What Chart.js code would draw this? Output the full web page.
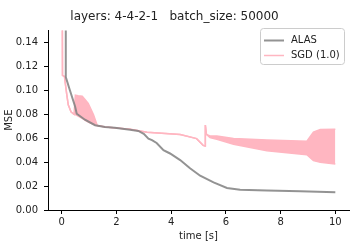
<!DOCTYPE html>
<html>
<head>
<meta charset="utf-8">
<script src="https://cdn.jsdelivr.net/npm/chart.js@4"></script>
<style>
  html, body { margin: 0; padding: 0; background: #fff; }
  #wrap { width: 360px; height: 252px; position: relative; }
</style>
</head>
<body>
<div id="wrap"><canvas id="c" width="360" height="252"></canvas></div>
<script>
// ---- data ----
const titleText = 'layers: 4-4-2-1   batch_size: 50000';
const xTicks = [0, 2, 4, 6, 8, 10];
const yTicks = [0.00, 0.02, 0.04, 0.06, 0.08, 0.10, 0.12, 0.14];

const alasTime = [0.15, 0.15, 0.3, 0.49, 0.55, 0.85, 1.22, 1.58, 1.94, 2.5, 2.8, 3.0, 3.17, 3.3, 3.47, 3.72, 3.96, 4.33, 4.69, 5.06, 5.55, 6.04, 6.52, 7.5, 8.72, 10];
const alasMse  = [0.5, 0.111, 0.100, 0.0864, 0.0804, 0.0754, 0.0708, 0.0694, 0.0686, 0.0670, 0.0660, 0.0636, 0.0596, 0.0584, 0.0560, 0.0500, 0.0472, 0.0417, 0.0349, 0.0286, 0.0230, 0.0184, 0.0170, 0.0162, 0.0156, 0.0148];

const sgdTime = [-0.02, 0.03, 0.1, 0.18, 0.24, 0.34, 0.45, 0.5, 0.6, 0.75, 0.86, 0.97, 1.16, 1.3, 1.6, 2.0, 2.5, 3.12, 4.33, 4.93, 5.17, 5.24, 5.25, 5.29, 5.42, 5.67, 6.28, 7.5, 8.96, 9.2, 9.45, 10];
const sgdLow   = [0.5, 0.1125, 0.1115, 0.0974, 0.0878, 0.0820, 0.0800, 0.0796, 0.0785, 0.0765, 0.0748, 0.0735, 0.0716, 0.0705, 0.0693, 0.0684, 0.0675, 0.0650, 0.0631, 0.0596, 0.0540, 0.0535, 0.0710, 0.0632, 0.0604, 0.0590, 0.0549, 0.0494, 0.0461, 0.0412, 0.0398, 0.0385];
const sgdHigh  = [0.5, 0.1125, 0.1115, 0.0974, 0.0878, 0.0820, 0.0800, 0.0960, 0.0955, 0.0950, 0.0920, 0.0890, 0.0797, 0.0705, 0.0693, 0.0684, 0.0675, 0.0650, 0.0631, 0.0596, 0.0540, 0.0535, 0.0710, 0.0632, 0.0618, 0.0618, 0.0597, 0.0584, 0.0575, 0.0650, 0.0672, 0.0675];

const seriesNames = ['ALAS', 'SGD (1.0)'];
// --------------------------------------

const FONT = "'DejaVu Sans', sans-serif";
const GRAY = 'rgba(128,128,128,0.85)';
const PINK = '#ffb6c1';

const toXY = (xs, ys) => xs.map((x, i) => ({ x: x, y: ys[i] }));

const legendBox = {
  id: 'legendBox',
  afterDraw(chart) {
    const ctx = chart.ctx;
    const x0 = 260.5, y0 = 28.5, w = 84, h = 36, r = 3;
    ctx.save();
    ctx.beginPath();
    ctx.moveTo(x0 + r, y0);
    ctx.lineTo(x0 + w - r, y0);
    ctx.arcTo(x0 + w, y0, x0 + w, y0 + r, r);
    ctx.lineTo(x0 + w, y0 + h - r);
    ctx.arcTo(x0 + w, y0 + h, x0 + w - r, y0 + h, r);
    ctx.lineTo(x0 + r, y0 + h);
    ctx.arcTo(x0, y0 + h, x0, y0 + h - r, r);
    ctx.lineTo(x0, y0 + r);
    ctx.arcTo(x0, y0, x0 + r, y0, r);
    ctx.closePath();
    ctx.fillStyle = 'rgba(255,255,255,0.8)';
    ctx.fill();
    ctx.strokeStyle = '#cccccc';
    ctx.lineWidth = 1;
    ctx.stroke();
    const items = [
      { label: chart.data.datasets[0].label, color: chart.data.datasets[0].borderColor, lw: 2, y: 40.5 },
      { label: chart.data.datasets[1].label, color: chart.data.datasets[1].borderColor, lw: 1.5, y: 55.5 }
    ];
    items.forEach(it => {
      ctx.beginPath();
      ctx.moveTo(264, it.y);
      ctx.lineTo(284, it.y);
      ctx.strokeStyle = it.color;
      ctx.lineWidth = it.lw;
      ctx.stroke();
      ctx.fillStyle = '#222';
      ctx.font = '10px ' + FONT;
      ctx.textBaseline = 'middle';
      ctx.textAlign = 'left';
      ctx.fillText(it.label, 291, it.y);
    });
    ctx.restore();
  }
};

new Chart(document.getElementById('c'), {
  type: 'line',
  data: {
    datasets: [
      {
        label: seriesNames[0],
        data: toXY(alasTime, alasMse),
        borderColor: GRAY,
        borderWidth: 2,
        pointRadius: 0,
        fill: false,
        tension: 0
      },
      {
        label: seriesNames[1],
        data: toXY(sgdTime, sgdLow),
        borderColor: PINK,
        borderWidth: 1.5,
        pointRadius: 0,
        fill: false,
        tension: 0
      },
      {
        label: seriesNames[1] + ' band',
        data: toXY(sgdTime, sgdHigh),
        borderColor: PINK,
        backgroundColor: PINK,
        borderWidth: 1.5,
        pointRadius: 0,
        fill: '-1',
        tension: 0
      }
    ]
  },
  options: {
    responsive: false,
    animation: false,
    devicePixelRatio: 1,
    parsing: true,
    layout: { padding: { left: 0, right: 11, top: 0, bottom: 0 } },
    plugins: {
      legend: { display: false },
      tooltip: { enabled: false },
      title: {
        display: true,
        text: titleText,
        color: '#222',
        font: { family: FONT, size: 12, weight: 'normal' },
        padding: { top: 10, bottom: 6 }
      }
    },
    scales: {
      x: {
        type: 'linear',
        min: -0.5,
        max: 10.5,
        afterBuildTicks: s => { s.ticks = xTicks.map(v => ({ value: v })); },
        afterFit: s => { s.height = 42; },
        grid: { drawOnChartArea: false, drawTicks: true, tickLength: 4, tickColor: '#000', tickWidth: 1 },
        border: { display: true, color: '#000', width: 1 },
        ticks: {
          color: '#222',
          font: { family: FONT, size: 10 },
          padding: 2,
          maxRotation: 0,
          callback: v => String(v)
        },
        title: {
          display: true,
          text: 'time [s]',
          color: '#222',
          font: { family: FONT, size: 10 },
          padding: { top: 0, bottom: 10 }
        }
      },
      y: {
        type: 'linear',
        min: 0,
        max: 0.15,
        afterBuildTicks: s => { s.ticks = yTicks.map(v => ({ value: v })); },
        afterFit: s => { s.width = 48; },
        grid: { drawOnChartArea: false, drawTicks: true, tickLength: 4, tickColor: '#000', tickWidth: 1 },
        border: { display: true, color: '#000', width: 1 },
        ticks: {
          color: '#222',
          font: { family: FONT, size: 10 },
          padding: 6,
          callback: v => Number(v).toFixed(2)
        },
        title: {
          display: true,
          text: 'MSE',
          color: '#222',
          font: { family: FONT, size: 10 },
          padding: { top: 3, bottom: 0 }
        }
      }
    }
  },
  plugins: [legendBox]
});
</script>
</body>
</html>
